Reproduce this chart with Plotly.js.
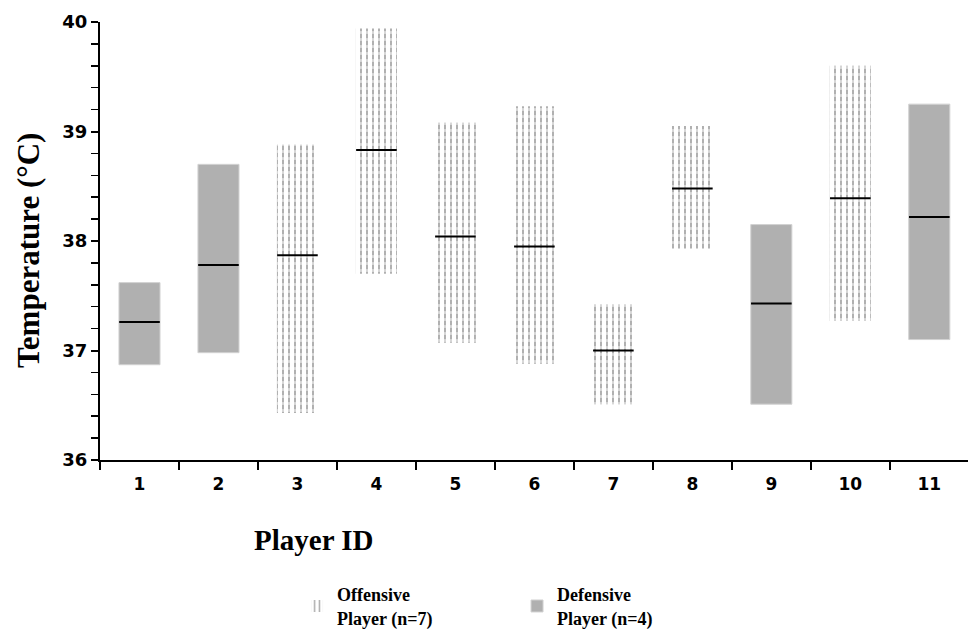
<!DOCTYPE html>
<html><head><meta charset="utf-8">
<script src="https://cdn.plot.ly/plotly-3.0.1.min.js"></script>
<style>html,body{margin:0;padding:0;background:#fff;} #chart{width:968px;height:637px;}</style>
</head><body><div id="chart"></div>
<script>
const players = ["1","2","3","4","5","6","7","8","9","10","11"];
const roles = ["Defensive","Defensive","Offensive","Offensive","Offensive","Offensive","Offensive","Offensive","Defensive","Offensive","Defensive"];
const minTemp = [36.87,36.98,36.43,37.70,37.07,36.88,36.51,37.93,36.51,37.27,37.10];
const maxTemp = [37.62,38.70,38.88,39.94,39.08,39.23,37.42,39.05,38.15,39.60,39.25];
const medianTemp = [37.26,37.78,37.87,38.83,38.04,37.95,37.00,38.48,37.43,38.39,38.22];
const yTicks = [36,37,38,39,40];
const legendNames = {Offensive: "Offensive<br>Player (n=7)", Defensive: "Defensive<br>Player (n=4)"};
const xTitle = "Player ID";
const yTitle = "Temperature (°C)";

function pick(role, arr){ return arr.filter((v,i)=>roles[i]===role); }
function spans(role){ const lo = pick(role,minTemp), hi = pick(role,maxTemp); return hi.map((h,i)=>h-lo[i]); }

const BW = 0.52;
const traces = [
  { type:'bar', name: legendNames.Offensive, x: pick('Offensive',players), base: pick('Offensive',minTemp), y: spans('Offensive'),
    width: BW, marker:{color:'white', line:{width:0},
      pattern:{shape:'|', fgcolor:'#606060', size:6, solidity:0.33, fillmode:'overlay'}}, hoverinfo:'skip' },
  { type:'bar', showlegend:false, x: pick('Offensive',players), base: pick('Offensive',minTemp), y: spans('Offensive'),
    width: BW, marker:{color:'rgba(0,0,0,0)', line:{width:0},
      pattern:{shape:'-', fgcolor:'white', bgcolor:'rgba(0,0,0,0)', size:7, solidity:0.4, fillmode:'overlay'}}, hoverinfo:'skip' },
  { type:'bar', name: legendNames.Defensive, x: pick('Defensive',players), base: pick('Defensive',minTemp), y: spans('Defensive'),
    width: BW, marker:{color:'#b0b0b0', line:{color:'#d2d2d2', width:1}}, hoverinfo:'skip' },
  { type:'scatter', mode:'markers', showlegend:false, x: players, y: medianTemp,
    marker:{symbol:'line-ew', size:29, color:'black', line:{color:'black', width:2}} }
];

const layout = {
  width:968, height:637,
  margin:{l:100, r:0, t:22, b:177},
  paper_bgcolor:'white', plot_bgcolor:'white',
  barmode:'overlay',
  showlegend:true,
  legend:{orientation:'h', x:0.227, y:-0.402, xanchor:'left', yanchor:'bottom',
    font:{family:'Liberation Serif', size:18, color:'black', weight:'bold'},
    entrywidth:175, entrywidthmode:'pixels', bgcolor:'rgba(0,0,0,0)', traceorder:'normal'},
  xaxis:{type:'category', categoryorder:'array', categoryarray:players, range:[-0.5, 10.49], tickson:'boundaries',
    ticks:'outside', ticklen:8, tickwidth:2, tickcolor:'black',
    showline:true, linewidth:2, linecolor:'black', showgrid:false, zeroline:false,
    tickfont:{family:'DejaVu Sans', size:17, color:'black', weight:'bold'}, ticklabelstandoff:8, fixedrange:true},
  yaxis:{range:[36,40], tickmode:'array', tickvals:yTicks, ticks:'outside', ticklen:7, tickwidth:2, tickcolor:'black',
    showline:true, linewidth:2, linecolor:'black', showgrid:false, zeroline:false,
    tickfont:{family:'DejaVu Sans', size:18, color:'black', weight:'bold'},
    minor:{tickmode:'linear', tick0:36, dtick:0.2, ticks:'outside', ticklen:7, tickwidth:1.5, tickcolor:'black', showgrid:false}},
  yaxis2:{overlaying:'y', side:'left', range:[36,40], tickmode:'linear', tick0:36, dtick:0.2, ticks:'inside', ticklen:7,
    tickwidth:1.5, tickcolor:'black', showticklabels:false, showline:false, showgrid:false, zeroline:false},
  annotations:[
    {text:xTitle, xref:'paper', yref:'paper', x:0.2465, y:-0.183, xanchor:'center', yanchor:'middle', showarrow:false,
     font:{family:'Liberation Serif', size:29, color:'black', weight:'bold'}},
    {text:yTitle, xref:'paper', yref:'paper', x:-0.0818, y:0.4795, xanchor:'center', yanchor:'middle', textangle:-90, showarrow:false,
     font:{family:'Liberation Serif', size:31, color:'black', weight:'bold'}}
  ]
};
Plotly.newPlot('chart', traces, layout, {displayModeBar:false, staticPlot:true});
</script></body></html>
